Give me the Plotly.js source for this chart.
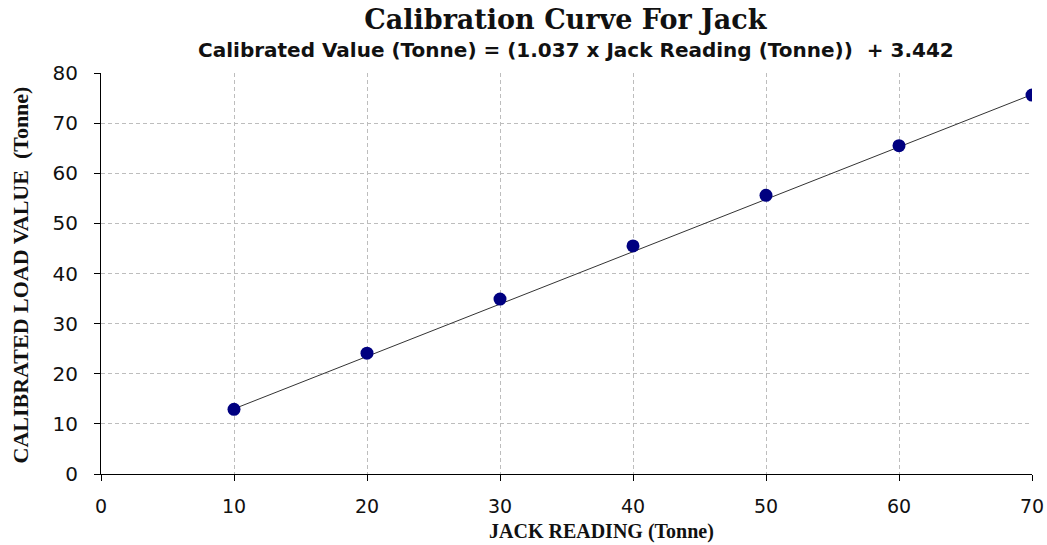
<!DOCTYPE html>
<html>
<head>
<meta charset="utf-8">
<script src="https://cdn.plot.ly/plotly-3.0.1.min.js"></script>
<style>
  html, body { margin: 0; padding: 0; background: #fff; }
  #chart { width: 1047px; height: 545px; }
</style>
</head>
<body>
<div id="chart"></div>
<script>
// Data
const jackReading = [10, 20, 30, 40, 50, 60, 70];
const calibratedLoad = [12.9, 24.1, 34.9, 45.5, 55.6, 65.5, 75.6];
// Trend line end points
const trendX = [10, 70];
const trendY = [13.0, 75.7];
const xTicks = [0, 10, 20, 30, 40, 50, 60, 70];
const yTicks = [0, 10, 20, 30, 40, 50, 60, 70, 80];

const titleText = "Calibration Curve For Jack";
const subtitleText = "Calibrated Value (Tonne) = (1.037 x Jack Reading (Tonne))  + 3.442";
const xTitle = "JACK READING (Tonne)";
const yTitle = "CALIBRATED LOAD VALUE  (Tonne)";

const traces = [
  {
    x: trendX, y: trendY, type: "scatter", mode: "lines",
    line: { color: "#333333", width: 1 }, hoverinfo: "skip", showlegend: false
  },
  {
    x: jackReading, y: calibratedLoad, type: "scatter", mode: "markers",
    marker: { color: "#000080", size: 13, line: { width: 0 } }, showlegend: false
  }
];

const layout = {
  width: 1047, height: 545,
  margin: { l: 101, r: 15, t: 73, b: 71, pad: 0 },
  paper_bgcolor: "#ffffff", plot_bgcolor: "#ffffff",
  showlegend: false,
  xaxis: {
    range: [0, 70], tickvals: xTicks, ticktext: xTicks.map(String),
    showline: true, linecolor: "#000", linewidth: 1,
    ticks: "outside", ticklen: 6, tickcolor: "#000", tickwidth: 1,
    showgrid: true, gridcolor: "#bdbdbd", griddash: "4px,3px", gridwidth: 1,
    zeroline: false,
    tickfont: { family: "DejaVu Sans", size: 19, color: "#111" },
    ticklabelstandoff: 9
  },
  yaxis: {
    range: [0, 80], tickvals: yTicks, ticktext: yTicks.map(String),
    showline: true, linecolor: "#000", linewidth: 1,
    ticks: "outside", ticklen: 6, tickcolor: "#000", tickwidth: 1,
    showgrid: true, gridcolor: "#bdbdbd", griddash: "4px,3px", gridwidth: 1,
    zeroline: false,
    tickfont: { family: "DejaVu Sans", size: 20, color: "#111" },
    ticklabelstandoff: 12
  },
  title: {
    text: titleText,
    font: { family: "DejaVu Serif", size: 27, color: "#111", weight: "bold" },
    x: 0.54, xanchor: "center", y: 0.965, yanchor: "middle"
  },
  annotations: [
    {
      text: subtitleText, xref: "paper", yref: "paper",
      x: 0.51, y: 1.0, yshift: 23, xanchor: "center", yanchor: "middle",
      showarrow: false,
      font: { family: "DejaVu Sans", size: 20, color: "#111", weight: "bold" }
    },
    {
      text: xTitle, xref: "paper", yref: "paper",
      x: 0.538, y: 0, yshift: -71, xanchor: "center", yanchor: "bottom",
      showarrow: false,
      font: { family: "Liberation Serif", size: 20, color: "#111", weight: "bold" }
    },
    {
      text: yTitle, xref: "paper", yref: "paper",
      x: 0, xshift: -80, y: 0.495, xanchor: "center", yanchor: "middle",
      textangle: -90, showarrow: false,
      font: { family: "Liberation Serif", size: 22, color: "#111", weight: "bold" }
    }
  ]
};

Plotly.newPlot("chart", traces, layout, { displayModeBar: false, staticPlot: true });
</script>
</body>
</html>
